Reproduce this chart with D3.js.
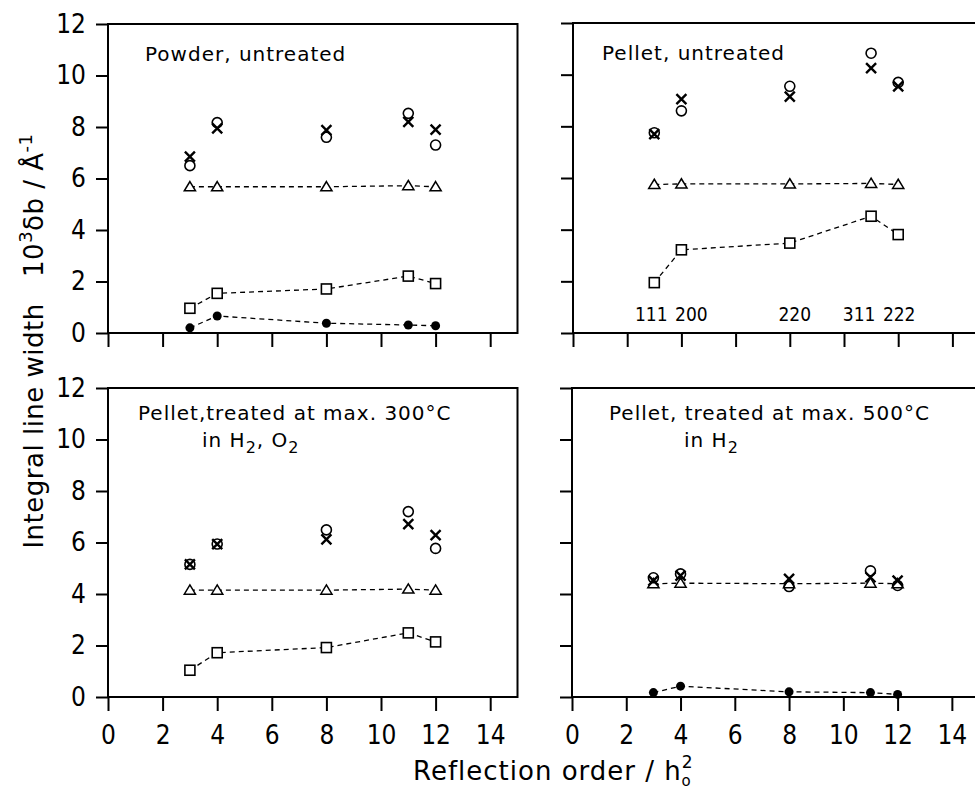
<!DOCTYPE html>
<html>
<head>
<meta charset="utf-8">
<script src="https://cdn.jsdelivr.net/npm/d3@7"></script>
<style>
  html, body { margin: 0; padding: 0; background: #fff; }
  svg { display: block; }
  .tick text { font-family: "DejaVu Sans Condensed", "Liberation Sans Narrow", "DejaVu Sans", sans-serif; font-stretch: condensed; }
</style>
</head>
<body>
<div id="chart"></div>
<script>
// reflection order h0^2 and the hkl of each reflection
const h2 = [3, 4, 8, 11, 12];
const hkl = ['111', '200', '220', '311', '222'];
const xTicks = [0, 2, 4, 6, 8, 10, 12, 14];
const yTicks = [0, 2, 4, 6, 8, 10, 12];

// Powder, untreated
const powderCross = [6.85, 7.95, 7.88, 8.2, 7.9];
const powderCircle = [6.5, 8.17, 7.6, 8.53, 7.3];
const powderTriangle = [5.68, 5.68, 5.68, 5.72, 5.68];
const powderSquare = [0.96, 1.54, 1.71, 2.21, 1.92];
const powderDot = [0.2, 0.66, 0.38, 0.31, 0.28];

// Pellet, untreated
const pelletCross = [7.7, 9.05, 9.15, 10.25, 9.55];
const pelletCircle = [7.75, 8.6, 9.55, 10.83, 9.7];
const pelletTriangle = [5.75, 5.77, 5.77, 5.79, 5.75];
const pelletSquare = [1.95, 3.22, 3.48, 4.52, 3.81];

// Pellet, treated at max. 300 C in H2, O2
const p300Cross = [5.15, 5.94, 6.12, 6.71, 6.29];
const p300Circle = [5.15, 5.94, 6.49, 7.2, 5.77];
const p300Triangle = [4.15, 4.15, 4.15, 4.19, 4.15];
const p300Square = [1.04, 1.72, 1.92, 2.49, 2.14];

// Pellet, treated at max. 500 C in H2
const p500Cross = [4.52, 4.71, 4.59, 4.65, 4.52];
const p500Circle = [4.63, 4.78, 4.29, 4.9, 4.33];
const p500Triangle = [4.4, 4.42, 4.4, 4.42, 4.4];
const p500Dot = [0.17, 0.42, 0.2, 0.17, 0.1];

const width = 975;
const height = 792;

const panels = [
  {left: 108, top: 24, bottom: 333, right: 517.5, xLabels: false, yLabels: true,
   title: [['Powder, untreated']], titleX: 145, titleY: 61,
   cross: powderCross, circle: powderCircle, triangle: powderTriangle, square: powderSquare, dot: powderDot},
  {left: 573, top: 23, bottom: 333, right: 979.5, xLabels: false, yLabels: false,
   title: [['Pellet, untreated']], titleX: 602, titleY: 60, hkl: true,
   cross: pelletCross, circle: pelletCircle, triangle: pelletTriangle, square: pelletSquare},
  {left: 108, top: 388, bottom: 697, right: 517.5, xLabels: true, yLabels: true,
   title: [['Pellet,treated at max. 300°C'], ['in H', '2', ', O', '2']], titleX: 138, titleY: 420, title2X: 202,
   cross: p300Cross, circle: p300Circle, triangle: p300Triangle, square: p300Square},
  {left: 572, top: 388, bottom: 697, right: 979, xLabels: true, yLabels: false,
   title: [['Pellet, treated at max. 500°C'], ['in H', '2']], titleX: 609, titleY: 420, title2X: 684,
   cross: p500Cross, circle: p500Circle, triangle: p500Triangle, dot: p500Dot}
];

const svg = d3.select('#chart').append('svg')
  .attr('width', width)
  .attr('height', height)
  .attr('viewBox', `0 0 ${width} ${height}`);

const dashedLine = (x, y) => d3.line()
  .x(d => x(d[0]))
  .y(d => y(d[1]));

const triPath = 'M0,-5.2L5.6,4L-5.6,4Z';
const crossPath = 'M-5,-5L5,5M-5,5L5,-5';

panels.forEach(p => {
  const x = d3.scaleLinear().domain([0, 15]).range([p.left, p.right]);
  const y = d3.scaleLinear().domain([0, 12]).range([p.bottom, p.top]);
  const g = svg.append('g');

  // frame
  g.append('rect')
    .attr('x', p.left).attr('y', p.top)
    .attr('width', p.right - p.left).attr('height', p.bottom - p.top)
    .attr('fill', 'none').attr('stroke', '#000').attr('stroke-width', 2);

  const yAxis = g.append('g')
    .attr('transform', `translate(${p.left},0)`)
    .call(d3.axisLeft(y).tickValues(yTicks).tickSize(12).tickSizeOuter(0).tickPadding(10)
      .tickFormat(p.yLabels ? d3.format('d') : () => ''));
  const xAxis = g.append('g')
    .attr('transform', `translate(0,${p.bottom})`)
    .call(d3.axisBottom(x).tickValues(xTicks).tickSize(14).tickSizeOuter(0).tickPadding(15)
      .tickFormat(p.xLabels ? d3.format('d') : () => ''));

  [yAxis, xAxis].forEach(a => {
    a.select('.domain').remove();
    a.selectAll('.tick line').attr('stroke-width', 2);
    a.selectAll('.tick text').attr('font-size', 26).attr('fill', '#000');
  });

  // title
  const t = g.append('text')
    .attr('font-family', '"DejaVu Sans", sans-serif')
    .attr('font-size', 20)
    .attr('letter-spacing', 1)
    .attr('x', p.titleX).attr('y', p.titleY);
  t.text(p.title[0][0]);
  if (p.title[1]) {
    const t2 = g.append('text')
      .attr('font-family', '"DejaVu Sans", sans-serif')
      .attr('font-size', 20)
      .attr('letter-spacing', 1)
      .attr('x', p.title2X).attr('y', p.titleY + 27);
    p.title[1].forEach((s, i) => {
      const sub = i % 2 === 1;
      t2.append('tspan')
        .attr('dy', sub ? 6 : (i > 0 ? -6 : 0))
        .attr('font-size', sub ? 16 : 20)
        .text(s);
    });
  }

  const pts = arr => arr.map((v, i) => [h2[i], v]);

  // dashed lines through triangles, squares and dots
  ['triangle', 'square', 'dot'].forEach(k => {
    if (!p[k]) return;
    g.append('path')
      .datum(pts(p[k]))
      .attr('d', dashedLine(x, y))
      .attr('fill', 'none')
      .attr('stroke', '#000')
      .attr('stroke-width', 1.3)
      .attr('stroke-dasharray', '5,4');
  });

  if (p.triangle) {
    g.selectAll('.tri').data(pts(p.triangle)).join('path')
      .attr('transform', d => `translate(${x(d[0])},${y(d[1])})`)
      .attr('d', triPath)
      .attr('fill', '#fff').attr('stroke', '#000').attr('stroke-width', 1.5);
  }
  if (p.square) {
    g.selectAll('.sq').data(pts(p.square)).join('rect')
      .attr('x', d => x(d[0]) - 5).attr('y', d => y(d[1]) - 5)
      .attr('width', 10).attr('height', 10)
      .attr('fill', '#fff').attr('stroke', '#000').attr('stroke-width', 1.6);
  }
  if (p.dot) {
    g.selectAll('.dot').data(pts(p.dot)).join('circle')
      .attr('cx', d => x(d[0])).attr('cy', d => y(d[1]))
      .attr('r', 4.5).attr('fill', '#000');
  }
  g.selectAll('.circ').data(pts(p.circle)).join('circle')
    .attr('cx', d => x(d[0])).attr('cy', d => y(d[1]))
    .attr('r', 5).attr('fill', 'none').attr('stroke', '#000').attr('stroke-width', 1.6);
  g.selectAll('.cross').data(pts(p.cross)).join('path')
    .attr('transform', d => `translate(${x(d[0])},${y(d[1])})`)
    .attr('d', crossPath)
    .attr('fill', 'none').attr('stroke', '#000').attr('stroke-width', 2.4);

  if (p.hkl) {
    const nudge = [-3, 10, 5, -12, 1];
    g.selectAll('.hkl').data(hkl).join('text')
      .attr('x', (d, i) => x(h2[i]) + nudge[i])
      .attr('y', 321)
      .attr('text-anchor', 'middle')
      .attr('font-family', '"DejaVu Sans Condensed", "Liberation Sans Narrow", "DejaVu Sans", sans-serif')
      .attr('font-stretch', 'condensed')
      .attr('font-size', 19)
      .text(d => d);
  }
});

// y axis title
const yt = svg.append('text')
  .attr('transform', 'translate(43,341) rotate(-90)')
  .attr('text-anchor', 'middle')
  .attr('font-family', '"DejaVu Sans", sans-serif')
  .attr('font-size', 26)
  .attr('letter-spacing', 0.5)
  .attr('xml:space', 'preserve');
yt.append('tspan').text('Integral line width   10');
yt.append('tspan').attr('dy', -11).attr('font-size', 18).text('3');
yt.append('tspan').attr('dy', 11).text('δb / Å');
yt.append('tspan').attr('dy', -11).attr('font-size', 18).text('-1');

// x axis title
const xt = svg.append('text')
  .attr('x', 413).attr('y', 780)
  .attr('font-family', '"DejaVu Sans", sans-serif')
  .attr('font-size', 26)
  .attr('letter-spacing', 1);
xt.append('tspan').text('Reflection order / h');
xt.append('tspan').attr('dy', -12).attr('font-size', 17).text('2');
xt.append('tspan').attr('dx', -12).attr('dy', 18).attr('font-size', 15).text('o');
</script>
</body>
</html>
